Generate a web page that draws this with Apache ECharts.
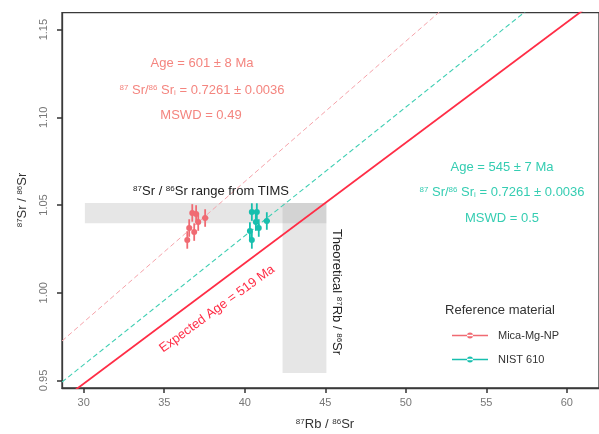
<!DOCTYPE html>
<html>
<head>
<meta charset="utf-8">
<script src="https://cdn.jsdelivr.net/npm/echarts@6/dist/echarts.min.js"></script>
<style>html,body{margin:0;padding:0;background:#fff}#c{width:599px;height:434px}</style>
</head>
<body>
<div id="c"></div>
<script>
// ---- data ----
const xTicks = [30, 35, 40, 45, 50, 55, 60];
const yTicks = [0.95, 1.00, 1.05, 1.10, 1.15];
const xRange = [28.65, 62.0];
const yRange = [0.9457, 1.1597];

const micaX = [36.74, 36.98, 37.11, 36.55, 36.86, 36.43, 37.54];
const micaY = [1.0455, 1.0449, 1.0403, 1.0369, 1.0346, 1.0301, 1.0426];
const micaXErr = [0.08, 0.08, 0.08, 0.08, 0.08, 0.08, 0.2];
const micaYErr = [0.005, 0.005, 0.005, 0.005, 0.005, 0.005, 0.005];

const nistX = [40.44, 40.75, 40.69, 40.32, 40.87, 40.44, 41.37];
const nistY = [1.0460, 1.0460, 1.0403, 1.0352, 1.0369, 1.0301, 1.0409];
const nistXErr = [0.08, 0.08, 0.08, 0.08, 0.08, 0.08, 0.2];
const nistYErr = [0.005, 0.005, 0.005, 0.005, 0.005, 0.005, 0.005];

// isochrons: [slope, intercept]
const expectedLine = [0.006866, 0.7422];
const nistLine = [0.00734, 0.7388];
const micaLine = [0.008003, 0.7432];

// shaded ranges [x0, x1, y0, y1]
const timsBand = [30.07, 45.07, 1.0396, 1.0512];
const theoBand = [42.35, 45.07, 0.9543, 1.0512];

// ---- chart ----
const RED = '#ff2d46', PINK = '#f06a72', PINKTXT = '#f4857f', PINKLINE = '#f5a3aa';
const TEAL = '#17bfae', TEALTXT = '#35cdb2', TEALLINE = '#3fcfb3';
const FONT = '"Liberation Sans", Arial, sans-serif';

function linePts(p) { return [[xRange[0], p[0]*xRange[0]+p[1]], [xRange[1], p[0]*xRange[1]+p[1]]]; }

function errSeries(name, xs, ys, xe, ye, color) {
  return {
    type: 'custom', name: name, z: 6,
    data: xs.map((x, i) => [x, ys[i], xe[i], ye[i]]),
    encode: {x: 0, y: 1},
    renderItem: function (params, api) {
      const x = api.value(0), y = api.value(1), dx = api.value(2), dy = api.value(3);
      const c = api.coord([x, y]);
      const t = api.coord([x, y + dy]), b = api.coord([x, y - dy]);
      const l = api.coord([x - dx, y]), r = api.coord([x + dx, y]);
      return {type: 'group', children: [
        {type: 'line', shape: {x1: t[0], y1: t[1], x2: b[0], y2: b[1]}, style: {stroke: color, lineWidth: 1.8}},
        {type: 'line', shape: {x1: l[0], y1: l[1], x2: r[0], y2: r[1]}, style: {stroke: color, lineWidth: 1.6}},
        {type: 'circle', shape: {cx: c[0], cy: c[1], r: 3}, style: {fill: color}}
      ]};
    }
  };
}

function txt(x, y, text, size, color, rot, extra) {
  return Object.assign({
    type: 'text', x: x, y: y, rotation: rot || 0, z: 20,
    style: {text: text, fill: color, font: size + 'px ' + FONT, align: 'center', verticalAlign: 'middle',
            rich: {sup: {fontSize: Math.round(size*0.62), verticalAlign: 'top', fill: color, fontFamily: FONT},
                   sub: {fontSize: Math.round(size*0.62), verticalAlign: 'bottom', fill: color, fontFamily: FONT}}}
  }, extra || {});
}

const legendIcon = 'path://M0,4.3H36V5.7H0Z M15,5A3,3 0 1,0 21,5A3,3 0 1,0 15,5Z';

const option = {
  animation: false,
  backgroundColor: '#fff',
  grid: {left: 62, top: 12.6, right: -3.3, bottom: 46, show: true, borderColor: '#3a3a3a', borderWidth: 1.3},
  xAxis: {
    type: 'value', min: xRange[0], max: xRange[1],
    axisLine: {show: true, lineStyle: {color: '#3a3a3a', width: 1.3}},
    axisTick: {show: true, length: 5, lineStyle: {color: '#333', width: 1.5}, customValues: xTicks},
    axisLabel: {customValues: xTicks, color: '#777', fontSize: 11, fontFamily: FONT, margin: 9, formatter: v => String(Math.round(v))},
    splitLine: {show: false}
  },
  yAxis: {
    type: 'value', min: yRange[0], max: yRange[1],
    axisLine: {show: true, lineStyle: {color: '#3a3a3a', width: 1.3}},
    axisTick: {show: true, length: 5, lineStyle: {color: '#333', width: 1.5}, customValues: yTicks},
    axisLabel: {customValues: yTicks, color: '#777', fontSize: 11, fontFamily: FONT, rotate: 90, margin: 13, formatter: v => v.toFixed(2)},
    splitLine: {show: false}
  },
  legend: {
    orient: 'vertical', left: 447, top: 325, itemWidth: 36, itemHeight: 6, itemGap: 13,
    textStyle: {fontSize: 11, color: '#333', fontFamily: FONT, padding: [0, 0, 0, 5]},
    data: [{name: 'Mica-Mg-NP', icon: legendIcon, itemStyle: {color: PINK}},
           {name: 'NIST 610', icon: legendIcon, itemStyle: {color: TEAL}}]
  },
  series: [
    {
      type: 'line', name: 'bands', silent: true, z: 1, data: [], showSymbol: false,
      markArea: {silent: true, itemStyle: {color: 'rgba(150,150,150,0.24)'},
        data: [
          [{coord: [timsBand[0], timsBand[2]]}, {coord: [timsBand[1], timsBand[3]]}],
          [{coord: [theoBand[0], theoBand[2]]}, {coord: [theoBand[1], theoBand[3]]}]
        ]}
    },
    {type: 'line', name: 'mica iso', silent: true, z: 3, showSymbol: false, data: linePts(micaLine),
     lineStyle: {color: PINKLINE, width: 1, type: [5, 3]}},
    {type: 'line', name: 'nist iso', silent: true, z: 3, showSymbol: false, data: linePts(nistLine),
     lineStyle: {color: TEALLINE, width: 1.1, type: [5, 3]}},
    {type: 'line', name: 'expected', silent: true, z: 4, showSymbol: false, data: linePts(expectedLine),
     lineStyle: {color: RED, width: 1.8}},
    errSeries('Mica-Mg-NP', micaX, micaY, micaXErr, micaYErr, PINK),
    errSeries('NIST 610', nistX, nistY, nistXErr, nistYErr, TEAL)
  ],
  graphic: [
    txt(202, 63, 'Age = 601 ± 8 Ma', 13, PINKTXT),
    txt(202, 90, '{sup|87} Sr/{sup|86} Sr{sub|i} = 0.7261 ± 0.0036', 13, PINKTXT),
    txt(201, 115, 'MSWD = 0.49', 13, PINKTXT),
    txt(502, 167, 'Age = 545 ± 7 Ma', 13, TEALTXT),
    txt(502, 192, '{sup|87} Sr/{sup|86} Sr{sub|i} = 0.7261 ± 0.0036', 13, TEALTXT),
    txt(502, 218, 'MSWD = 0.5', 13, TEALTXT),
    txt(211, 191, '{sup|87}Sr / {sup|86}Sr range from TIMS', 13, '#222'),
    txt(337, 292, 'Theoretical {sup|87}Rb / {sup|86}Sr', 13, '#222', -Math.PI/2),
    txt(217, 309, 'Expected Age = 519 Ma', 13, RED, 0.63),
    txt(500, 310, 'Reference material', 13, '#333'),
    txt(325, 424, '{sup|87}Rb / {sup|86}Sr', 13, '#333'),
    txt(22, 200, '{sup|87}Sr / {sup|86}Sr', 13, '#333', Math.PI/2)
  ]
};

const chart = echarts.init(document.getElementById('c'), null, {renderer: 'canvas'});
chart.setOption(option);
</script>
</body>
</html>
